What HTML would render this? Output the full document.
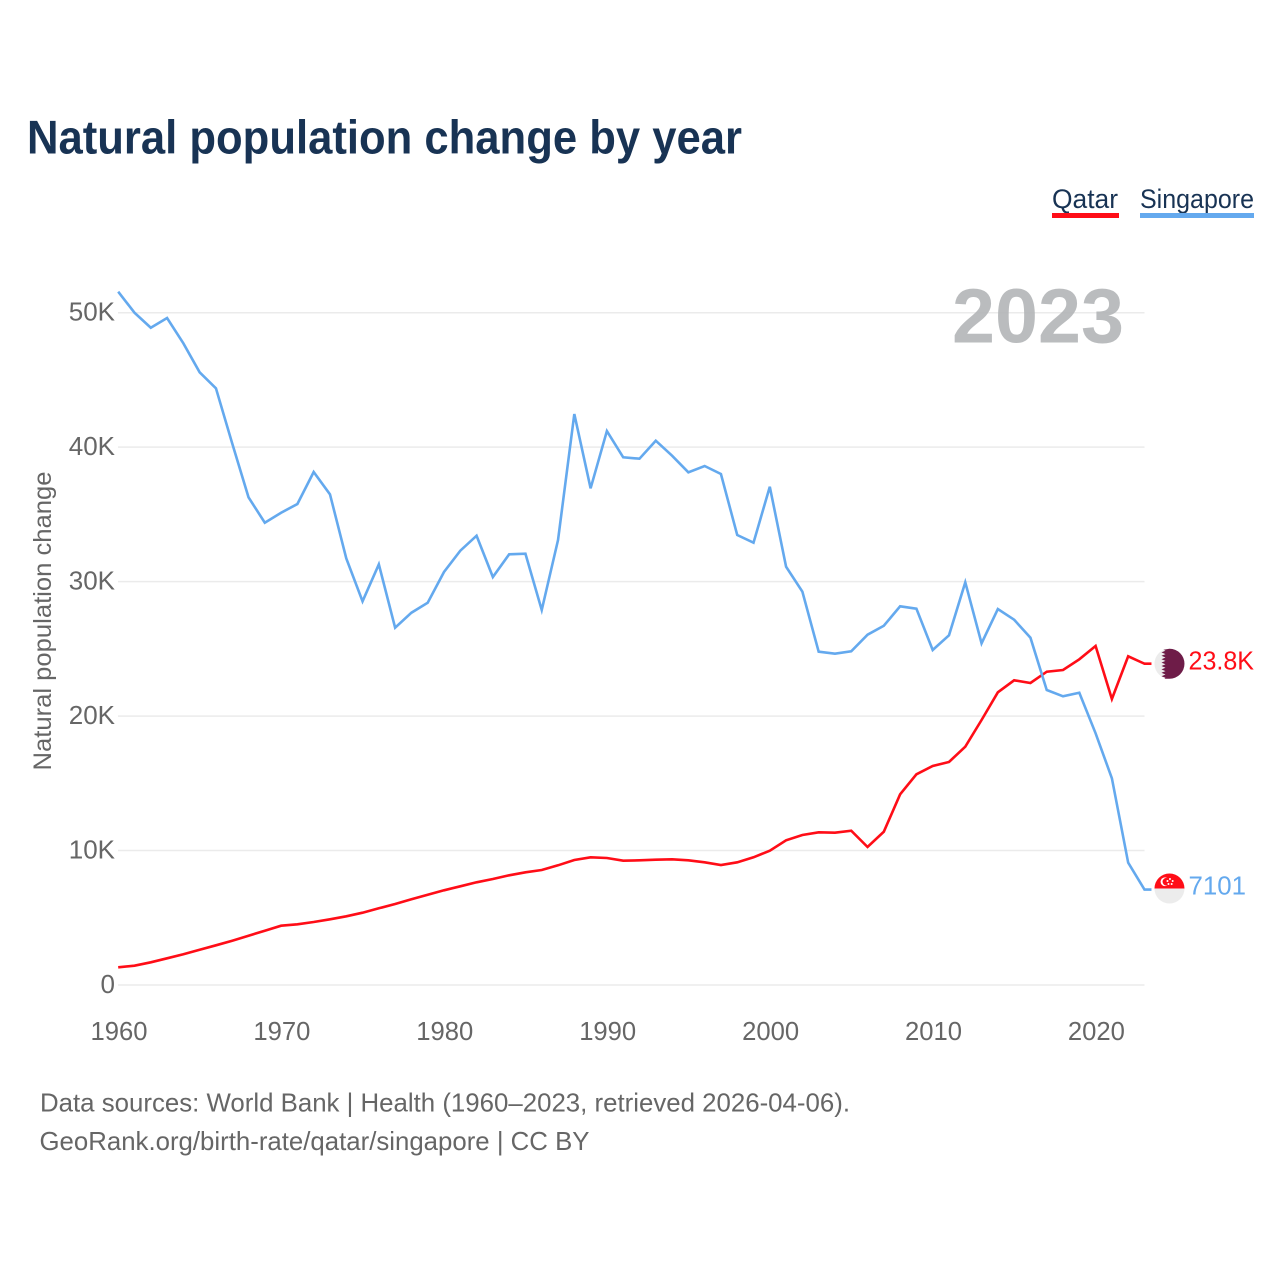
<!DOCTYPE html>
<html lang="en">
<head>
<meta charset="utf-8">
<title>Natural population change by year</title>
<style>
  html, body { margin: 0; padding: 0; background: #fff; }
  svg { display: block; font-family: "Liberation Sans", sans-serif; }
</style>
</head>
<body>
<svg id="chart" xmlns="http://www.w3.org/2000/svg" width="1280" height="1280" viewBox="0 0 1280 1280">
  <rect width="1280" height="1280" fill="#ffffff"/>
  <text x="27" y="153.3" font-size="47" font-weight="700" fill="#183354" textLength="715" lengthAdjust="spacingAndGlyphs">Natural population change by year</text>

  <g>
    <g>
      <text x="1052" y="208" font-size="27" fill="#183354" textLength="66" lengthAdjust="spacingAndGlyphs">Qatar</text>
      <rect x="1052" y="213" width="67" height="5" fill="#ff0d17"/>
    </g>
    <g>
      <text x="1140" y="208" font-size="27" fill="#183354" textLength="114" lengthAdjust="spacingAndGlyphs">Singapore</text>
      <rect x="1140" y="213" width="114" height="5" fill="#64a9ee"/>
    </g>
  </g>

  <g id="grid"></g>
  <g id="yTicks"></g>
  <g id="xTicks"></g>

  <text x="952" y="342.7" font-size="77" font-weight="700" fill="#b3b5b7" fill-opacity="0.9" textLength="172" lengthAdjust="spacingAndGlyphs">2023</text>

  <text transform="translate(51,621) rotate(-90)" text-anchor="middle" font-size="25" fill="#666666" textLength="299" lengthAdjust="spacingAndGlyphs">Natural population change</text>

  <g id="series"></g>

  <g id="flagQatar">
    <circle r="15" fill="#ececec"/>
    <path fill="#6e1c48" d="M0,-15 A15,15 0 0 1 0,15 L-5,15 L-4,14 L-8,12.5 L-4,10.8 L-8,9.1 L-4,7.4 L-8,5.7 L-4,4 L-8,2.3 L-4,0.6 L-8,-1.1 L-4,-2.8 L-8,-4.5 L-4,-6.2 L-8,-7.9 L-4,-9.6 L-8,-11.3 L-4,-13 L-6,-14 Z"/>
  </g>
  <g id="flagSingapore">
    <circle r="15" fill="#ececec"/>
    <path fill="#ff0d17" d="M-15,0 A15,15 0 0 1 15,0 Z"/>
    <circle cx="-4.5" cy="-6.8" r="4.4" fill="#ffffff"/>
    <circle cx="-3" cy="-6.8" r="3.9" fill="#ff0d17"/>
    <circle cx="0.5" cy="-9.5" r="1" fill="#ffffff"/>
    <circle cx="3.2" cy="-7.5" r="1" fill="#ffffff"/>
    <circle cx="2.2" cy="-4.5" r="1" fill="#ffffff"/>
    <circle cx="-1" cy="-4.5" r="1" fill="#ffffff"/>
    <circle cx="-2" cy="-7.5" r="1" fill="#ffffff"/>
  </g>

  <g id="endLabels"></g>

  <g>
    <text x="40" y="1111.7" font-size="26" fill="#666666" textLength="810" lengthAdjust="spacingAndGlyphs">Data sources: World Bank | Health (1960–2023, retrieved 2026-04-06).</text>
    <text x="39.5" y="1150" font-size="26" fill="#666666" textLength="550" lengthAdjust="spacingAndGlyphs">GeoRank.org/birth-rate/qatar/singapore | CC BY</text>
  </g>
</svg>

<script>
const startYear = 1960;
const qatarValues = [1316,1435,1688,1986,2283,2625,2952,3295,3666,4038,4410,4514,4685,4886,5109,5377,5704,6024,6373,6716,7043,7340,7638,7883,8158,8381,8553,8902,9296,9497,9445,9244,9274,9319,9348,9274,9125,8924,9125,9497,9988,10761,11156,11356,11327,11475,10263,11401,14182,15670,16287,16585,17722,19708,21768,22661,22460,23300,23427,24222,25211,21270,24445,23895];
const singaporeValues = [51560,50000,48884,49605,47723,45566,44377,40271,36270,34381,35125,35772,38152,36493,31734,28536,31287,26572,27688,28432,30715,32299,33414,30343,32031,32076,27889,33095,42465,36940,41201,39245,39141,40480,39364,38129,38598,38003,33467,32894,37059,31109,29250,24788,24639,24817,26052,26721,28164,27985,24914,26007,29949,25412,27963,27167,25829,21939,21471,21738,18719,15372,9095,7101];
const yTickValues = [0,10000,20000,30000,40000,50000];
const yTickLabels = ["0","10K","20K","30K","40K","50K"];
const xTickValues = [1960,1970,1980,1990,2000,2010,2020];
const endLabelTexts = ["23.8K","7101"];

const NS = "http://www.w3.org/2000/svg";
function xScale(year) { return 118.2 + (year - 1960) * 16.29; }
function yScale(value) { return 985 - value * 0.013446; }
function make(tag, parent, attrs, text) {
  const el = document.createElementNS(NS, tag);
  for (const k in attrs) el.setAttribute(k, attrs[k]);
  if (text !== undefined) el.textContent = text;
  parent.appendChild(el);
  return el;
}

const gridGroup = document.getElementById("grid");
const yGroup = document.getElementById("yTicks");
yTickValues.forEach(function (v, i) {
  const line = make("line", gridGroup, {x1: 118, x2: 1144.5, y1: yScale(v), y2: yScale(v), stroke: "#ebebeb", "stroke-width": 1.5});
  
  
  const label = make("text", yGroup, {x: 115, y: yScale(v) + 8, "text-anchor": "end", "font-size": 26, fill: "#666666"}, yTickLabels[i]);
  
  
});

const xGroup = document.getElementById("xTicks");
xTickValues.forEach(function (year) {
  const label = make("text", xGroup, {x: xScale(year) + 0.8, y: 1040, "text-anchor": "middle", "font-size": 26, fill: "#666666", textLength: 57, lengthAdjust: "spacingAndGlyphs"}, String(year));
  
  
});

function linePath(values) {
  let d = "";
  values.forEach(function (v, i) {
    d += (i ? "L" : "M") + xScale(startYear + i).toFixed(2) + "," + yScale(v).toFixed(2);
  });
  const lastY = yScale(values[values.length - 1]);
  return d + "L" + (xScale(startYear + values.length - 1) + 7) + "," + lastY.toFixed(2);
}

const seriesGroup = document.getElementById("series");
const qatarLine = make("path", seriesGroup, {d: linePath(qatarValues), fill: "none", stroke: "#ff0d17", "stroke-width": 2.6, "stroke-linejoin": "miter"});


const singaporeLine = make("path", seriesGroup, {d: linePath(singaporeValues), fill: "none", stroke: "#64a9ee", "stroke-width": 2.6, "stroke-linejoin": "miter"});



const qatarY = yScale(qatarValues[qatarValues.length - 1]);
const singaporeY = yScale(singaporeValues[singaporeValues.length - 1]);
const flagX = xScale(startYear + qatarValues.length - 1) + 25;
document.getElementById("flagQatar").setAttribute("transform", "translate(" + flagX + "," + qatarY + ")");
document.getElementById("flagSingapore").setAttribute("transform", "translate(" + flagX + "," + (singaporeY - 1) + ")");

const endGroup = document.getElementById("endLabels");
const qatarEnd = make("text", endGroup, {x: 1188.5, y: qatarY + 6, "font-size": 26, fill: "#ff0d17", textLength: 65.5, lengthAdjust: "spacingAndGlyphs"}, endLabelTexts[0]);


const singaporeEnd = make("text", endGroup, {x: 1188.5, y: singaporeY + 5, "font-size": 26, fill: "#64a9ee", textLength: 57.5, lengthAdjust: "spacingAndGlyphs"}, endLabelTexts[1]);


</script>
</body>
</html>
